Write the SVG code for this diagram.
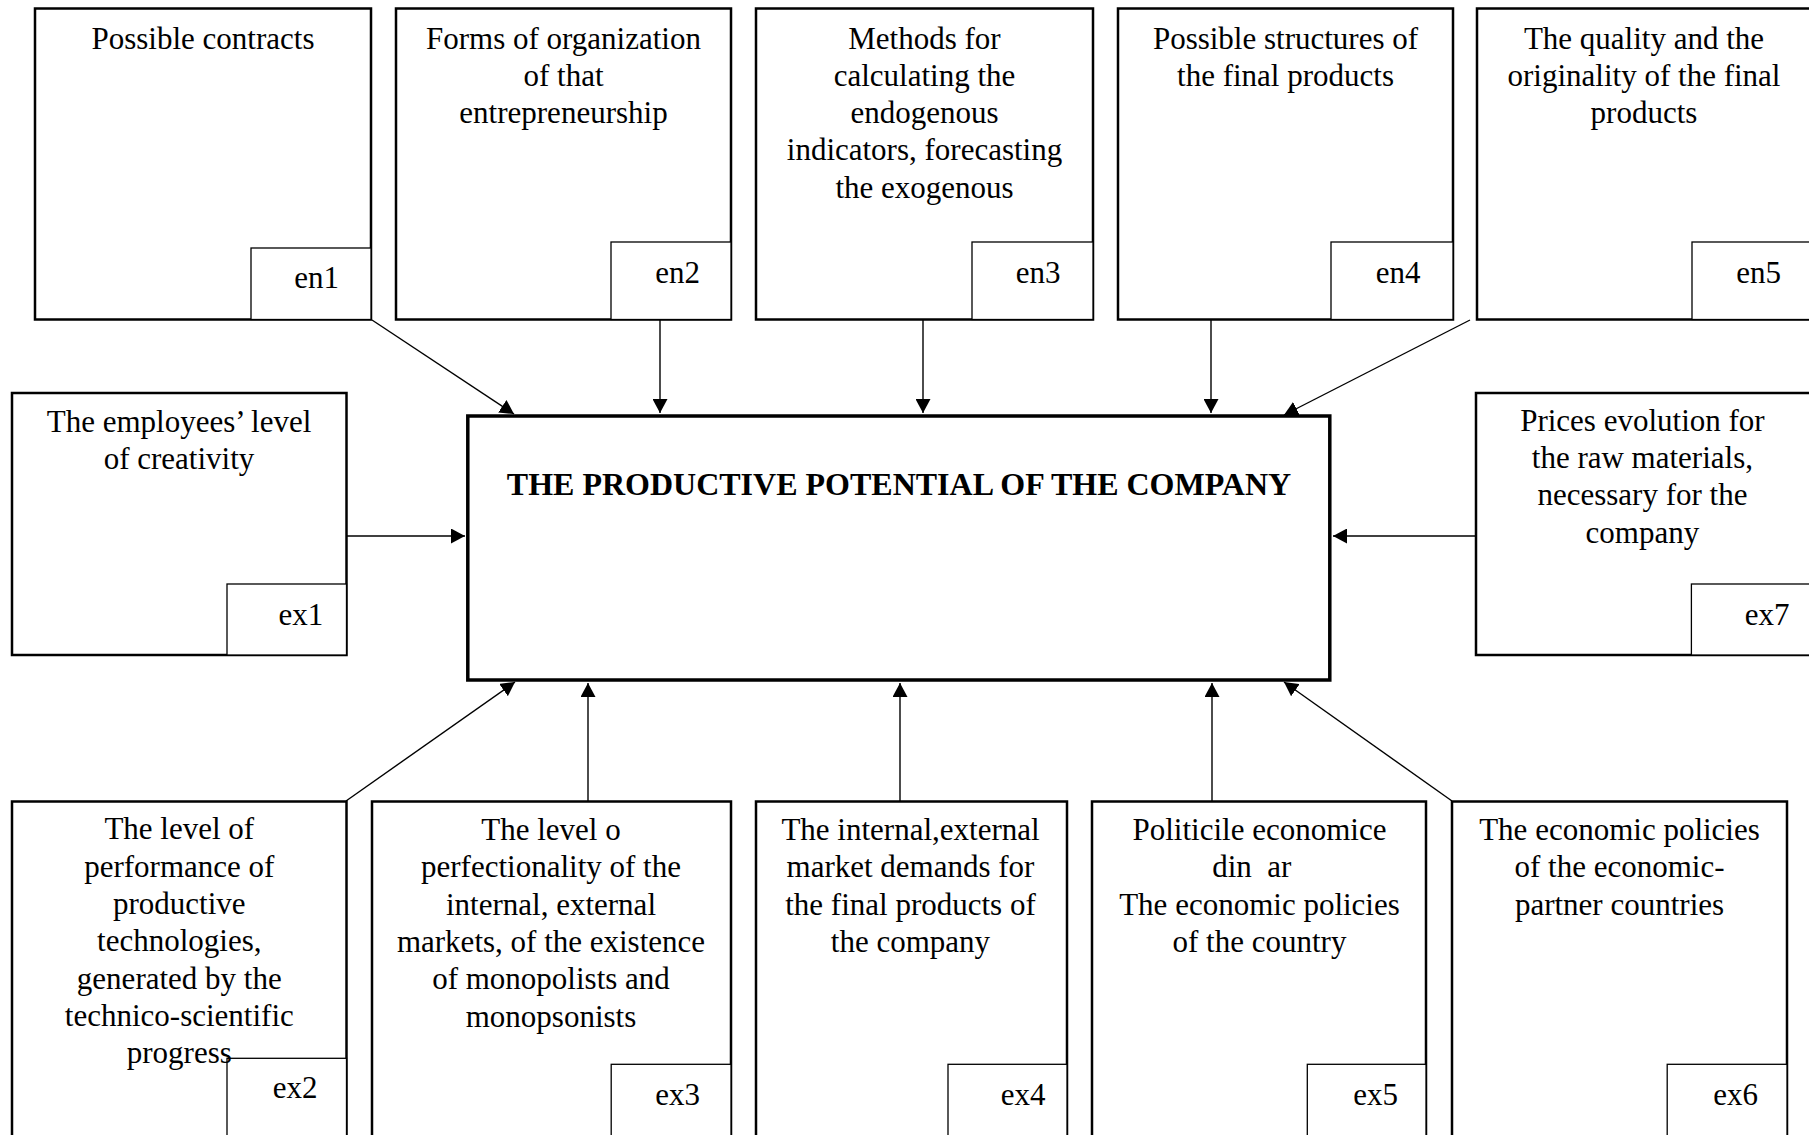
<svg xmlns="http://www.w3.org/2000/svg" width="1809" height="1135" viewBox="0 0 1809 1135">
<style>
.box{fill:#fff;stroke:#000;stroke-width:2.5}
.main{fill:#fff;stroke:#000;stroke-width:3.5}
.tag{fill:#fff;stroke:#000;stroke-width:1.3}
.t{font-family:"Liberation Serif","Times New Roman",serif;font-size:31px;fill:#000;text-anchor:middle}
.lbl{font-family:"Liberation Serif","Times New Roman",serif;font-size:31px;fill:#000;text-anchor:end}
.title{font-family:"Liberation Serif","Times New Roman",serif;font-size:32px;font-weight:bold;fill:#000;text-anchor:middle}
.c{stroke:#000;stroke-width:1.4;fill:none;marker-end:url(#ah)}
</style>
<defs>
<marker id="ah" markerUnits="userSpaceOnUse" markerWidth="15" markerHeight="15" refX="14" refY="7.5" orient="auto">
<path d="M0,0 L14,7.5 L0,15 z" fill="#000"/>
</marker>
</defs>
<rect width="1809" height="1135" fill="#fff"/>
<g id="connectors">
<line class="c" x1="372" y1="320" x2="514" y2="414"/>
<line class="c" x1="660" y1="320" x2="660" y2="413"/>
<line class="c" x1="923" y1="320" x2="923" y2="413"/>
<line class="c" x1="1211" y1="320" x2="1211" y2="413"/>
<line class="c" x1="1470" y1="320" x2="1284" y2="415"/>
<line class="c" x1="347" y1="536" x2="465" y2="536"/>
<line class="c" x1="1475" y1="536" x2="1333" y2="536"/>
<line class="c" x1="346" y1="801" x2="515" y2="682"/>
<line class="c" x1="588" y1="801" x2="588" y2="683"/>
<line class="c" x1="900" y1="801" x2="900" y2="683"/>
<line class="c" x1="1212" y1="801" x2="1212" y2="683"/>
<line class="c" x1="1452" y1="801" x2="1284" y2="682"/>
</g>
<g id="main">
<rect class="main" x="467.8" y="416" width="862" height="264"/>
<text class="title" x="899" y="495">THE PRODUCTIVE POTENTIAL OF THE COMPANY</text>
</g>
<g id="en1">
<rect class="box" x="35" y="8.5" width="336" height="311"/>
<rect class="tag" x="251" y="248" width="120" height="71.5"/>
<text class="t" x="203" y="49">Possible contracts</text>
<text class="lbl" x="339" y="288">en1</text>
</g>
<g id="en2">
<rect class="box" x="396" y="8.5" width="335" height="311"/>
<rect class="tag" x="611" y="242" width="120" height="77.5"/>
<text class="t" x="563.5" y="48.5">Forms of organization</text>
<text class="t" x="563.5" y="85.8">of that</text>
<text class="t" x="563.5" y="123.1">entrepreneurship</text>
<text class="lbl" x="700" y="283.3">en2</text>
</g>
<g id="en3">
<rect class="box" x="756" y="8.5" width="337" height="311"/>
<rect class="tag" x="972" y="242" width="121" height="77.5"/>
<text class="t" x="924.5" y="48.5">Methods for</text>
<text class="t" x="924.5" y="85.8">calculating the</text>
<text class="t" x="924.5" y="123.1">endogenous</text>
<text class="t" x="924.5" y="160.4">indicators, forecasting</text>
<text class="t" x="924.5" y="197.7">the exogenous</text>
<text class="lbl" x="1060.5" y="283.3">en3</text>
</g>
<g id="en4">
<rect class="box" x="1118" y="8.5" width="335" height="311"/>
<rect class="tag" x="1331" y="242" width="122" height="77.5"/>
<text class="t" x="1285.5" y="48.5">Possible structures of</text>
<text class="t" x="1285.5" y="85.8">the final products</text>
<text class="lbl" x="1420.5" y="283.3">en4</text>
</g>
<g id="en5">
<rect class="box" x="1477" y="8.5" width="336" height="311"/>
<rect class="tag" x="1692" y="242" width="121" height="77.5"/>
<text class="t" x="1644" y="48.5">The quality and the</text>
<text class="t" x="1644" y="85.8">originality of the final</text>
<text class="t" x="1644" y="123.1">products</text>
<text class="lbl" x="1781" y="283.3">en5</text>
</g>
<g id="ex1">
<rect class="box" x="12" y="393" width="334.5" height="262"/>
<rect class="tag" x="227" y="584" width="119.5" height="71"/>
<text class="t" x="179" y="431.7">The employees’ level</text>
<text class="t" x="179" y="469.3">of creativity</text>
<text class="lbl" x="323.3" y="625">ex1</text>
</g>
<g id="ex7">
<rect class="box" x="1476" y="393" width="336" height="262"/>
<rect class="tag" x="1691.4" y="584" width="121" height="71"/>
<text class="t" x="1642.4" y="430.7">Prices evolution for</text>
<text class="t" x="1642.4" y="468">the raw materials,</text>
<text class="t" x="1642.4" y="505.3">necessary for the</text>
<text class="t" x="1642.4" y="542.6">company</text>
<text class="lbl" x="1789.5" y="625">ex7</text>
</g>
<g id="ex2">
<rect class="box" x="12" y="801.5" width="334.5" height="340"/>
<rect class="tag" x="227" y="1058.3" width="119.5" height="90"/>
<text class="t" x="179.3" y="839.3">The level of</text>
<text class="t" x="179.3" y="876.6">performance of</text>
<text class="t" x="179.3" y="913.9">productive</text>
<text class="t" x="179.3" y="951.2">technologies,</text>
<text class="t" x="179.3" y="988.5">generated by the</text>
<text class="t" x="179.3" y="1025.8">technico-scientific</text>
<text class="t" x="179.3" y="1063.1">progress</text>
<text class="lbl" x="317.5" y="1098.3">ex2</text>
</g>
<g id="ex3">
<rect class="box" x="372" y="801.5" width="359" height="340"/>
<rect class="tag" x="611.2" y="1064.3" width="119.8" height="90"/>
<text class="t" x="551" y="840">The level o</text>
<text class="t" x="551" y="877.3">perfectionality of the</text>
<text class="t" x="551" y="914.6">internal, external</text>
<text class="t" x="551" y="951.9">markets, of the existence</text>
<text class="t" x="551" y="989.2">of monopolists and</text>
<text class="t" x="551" y="1026.5">monopsonists</text>
<text class="lbl" x="700" y="1105">ex3</text>
</g>
<g id="ex4">
<rect class="box" x="756" y="801.5" width="311" height="340"/>
<rect class="tag" x="948" y="1064.3" width="119" height="90"/>
<text class="t" x="910.5" y="840">The internal,external</text>
<text class="t" x="910.5" y="877.3">market demands for</text>
<text class="t" x="910.5" y="914.6">the final products of</text>
<text class="t" x="910.5" y="951.9">the company</text>
<text class="lbl" x="1045.5" y="1105">ex4</text>
</g>
<g id="ex5">
<rect class="box" x="1092" y="801.5" width="334" height="340"/>
<rect class="tag" x="1307.3" y="1064.3" width="118.7" height="90"/>
<text class="t" x="1259.5" y="840">Politicile economice</text>
<text class="t" x="1251.8" y="877.3" xml:space="preserve">din  ar</text>
<text class="t" x="1259.5" y="914.6">The economic policies</text>
<text class="t" x="1259.5" y="951.9">of the country</text>
<text class="lbl" x="1398" y="1105">ex5</text>
</g>
<g id="ex6">
<rect class="box" x="1452" y="801.5" width="335" height="340"/>
<rect class="tag" x="1667.2" y="1064.3" width="119.8" height="90"/>
<text class="t" x="1619.5" y="840">The economic policies</text>
<text class="t" x="1619.5" y="877.3">of the economic-</text>
<text class="t" x="1619.5" y="914.6">partner countries</text>
<text class="lbl" x="1758" y="1105">ex6</text>
</g>
</svg>
